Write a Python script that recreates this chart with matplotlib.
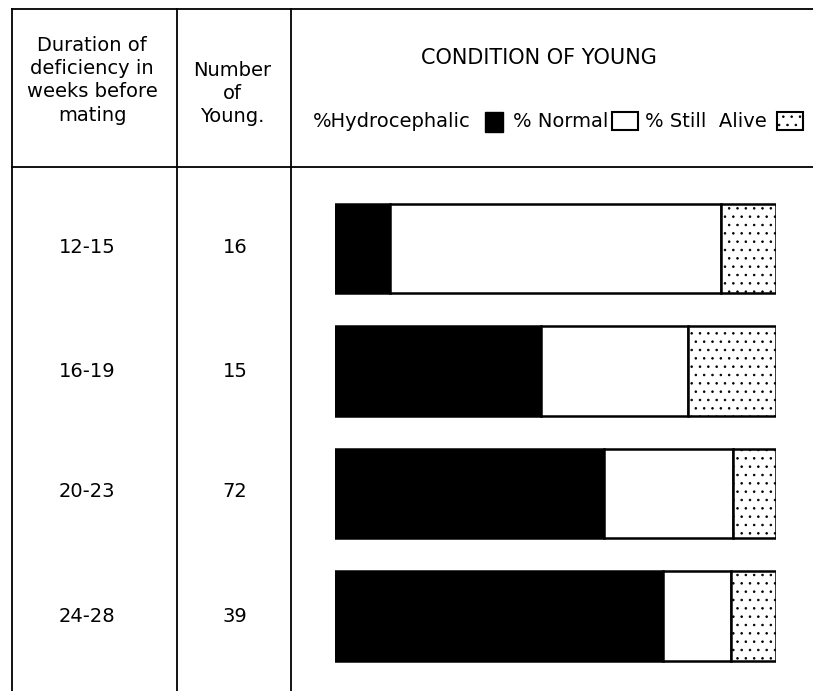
import matplotlib.pyplot as plt
from matplotlib.patches import Rectangle

# Data
durations = ["12-15", "16-19", "20-23", "24-28"]
num_young = [16, 15, 72, 39]
pct_hydro = [12.5, 46.7, 61.1, 74.4]
pct_normal = [75.0, 33.3, 29.2, 15.4]
pct_alive = [12.5, 20.0, 9.7, 10.2]

W, H = 813, 691
FONT = "DejaVu Sans"
plt.rcParams["hatch.linewidth"] = 0.6
plt.rcParams["hatch.color"] = "#444444"

fig = plt.figure(figsize=(W / 100, H / 100), dpi=100)

# Background axes in pixel coordinates for the table frame and text
bg = fig.add_axes([0, 0, 1, 1])
bg.set_xlim(0, W)
bg.set_ylim(H, 0)
bg.axis("off")

lw = 1.3
bg.plot([12, W], [9, 9], color="black", lw=lw)
bg.plot([12, W], [167, 167], color="black", lw=lw)
bg.plot([12, 12], [9, H], color="black", lw=lw)
bg.plot([177, 177], [9, H], color="black", lw=lw)
bg.plot([291, 291], [9, H], color="black", lw=lw)

# Header text
bg.text(92, 36, "Duration of\ndeficiency in\nweeks before\nmating", ha="center",
        va="top", fontsize=14, family=FONT, linespacing=1.28)
bg.text(232, 61, "Number\nof\nYoung.", ha="center", va="top", fontsize=14,
        family=FONT, linespacing=1.28)
bg.text(539, 58, "CONDITION OF YOUNG", ha="center", va="center", fontsize=15,
        family=FONT)

# Legend row
ly = 121
bg.text(313, ly, "%Hydrocephalic", ha="left", va="center", fontsize=14, family=FONT)
bg.add_patch(Rectangle((485, 112), 18, 20, facecolor="black", edgecolor="black"))
bg.text(513, ly, "% Normal", ha="left", va="center", fontsize=14, family=FONT)
bg.add_patch(Rectangle((612, 112), 26, 18, facecolor="white", edgecolor="black", lw=1.5))
bg.text(645, ly, "% Still  Alive", ha="left", va="center", fontsize=14, family=FONT)
bg.add_patch(Rectangle((777, 112), 26, 18, facecolor="white", edgecolor="black",
                       lw=1.5, hatch=".."))

# Bars
ax = fig.add_axes([335 / W, 1 - 677.25 / H, 441 / W, 490 / H])
ypos = list(range(len(durations)))
left2 = [a + b for a, b in zip(pct_hydro, pct_normal)]
ax.barh(ypos, pct_hydro, height=0.727, color="black", edgecolor="black", lw=1.8)
ax.barh(ypos, pct_normal, left=pct_hydro, height=0.727, color="white",
        edgecolor="black", lw=1.8)
ax.barh(ypos, pct_alive, left=left2, height=0.727, color="white",
        edgecolor="black", lw=1.8, hatch="..")
ax.set_xlim(0, 100)
ax.set_ylim(len(durations) - 0.5, -0.5)
ax.axis("off")

# Row labels
row_y = [247, 371, 491, 616]
for d, n, y in zip(durations, num_young, row_y):
    bg.text(87, y, d, ha="center", va="center", fontsize=14, family=FONT)
    bg.text(235, y, str(n), ha="center", va="center", fontsize=14, family=FONT)

fig.savefig("out.png", dpi=100)
